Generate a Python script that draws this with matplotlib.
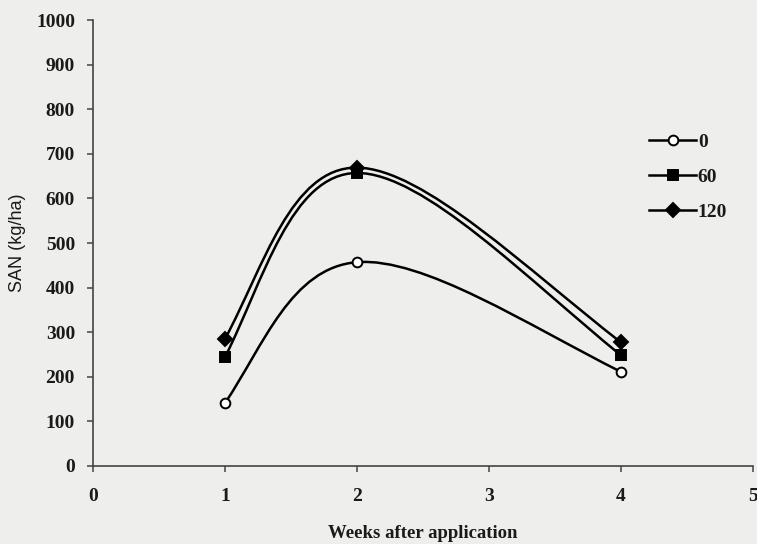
import numpy as np
import matplotlib
matplotlib.use("Agg")
import matplotlib.pyplot as plt
from matplotlib.path import Path
from matplotlib.patches import PathPatch

weeks = [1, 2, 4]
san_0 = [141, 457, 211]
san_60 = [244, 657, 248]
san_120 = [285, 669, 277]
series_labels = ["0", "60", "120"]
x_ticks = [0, 1, 2, 3, 4, 5]
y_ticks = [0, 100, 200, 300, 400, 500, 600, 700, 800, 900, 1000]

SERIF = ["Liberation Serif", "DejaVu Serif"]
SANS = ["Liberation Sans", "DejaVu Sans"]
BG = "#eeeeec"
INK = "#1a1a1a"


def smooth_path(xs, ys):
    """Cubic Bezier through the points with smoothed interior tangents and
    relaxed (half-natural) end tangents."""
    pts = np.column_stack([xs, ys]).astype(float)
    n = len(pts)
    # control-point offsets at interior points
    off = [None] * n
    for i in range(1, n - 1):
        off[i] = (pts[i + 1] - pts[i - 1]) / 6.0
    verts = [pts[0]]
    codes = [Path.MOVETO]
    for i in range(n - 1):
        p0, p1 = pts[i], pts[i + 1]
        d = p1 - p0
        if off[i] is not None:
            c1 = p0 + off[i]
        else:
            v = off[i + 1] if off[i + 1] is not None else np.zeros(2)
            c1 = p0 + (5.0 / 12.0) * d - v / 4.0
        if off[i + 1] is not None:
            c2 = p1 - off[i + 1]
        else:
            v = off[i] if off[i] is not None else np.zeros(2)
            c2 = p1 - ((5.0 / 12.0) * d - v / 4.0)
        verts += [c1, c2, p1]
        codes += [Path.CURVE4] * 3
    return Path(verts, codes)


fig = plt.figure(figsize=(7.57, 5.44), dpi=100, facecolor=BG)
ax = fig.add_axes([0.1229, 0.1434, 0.8718, 0.8198])
ax.set_facecolor(BG)

styles = [
    dict(marker="o", markerfacecolor="white", markersize=7),
    dict(marker="s", markerfacecolor="black", markersize=7),
    dict(marker="D", markerfacecolor="black", markersize=7),
]

for ys, lab, st in zip([san_0, san_60, san_120], series_labels, styles):
    ax.add_patch(PathPatch(smooth_path(weeks, ys), facecolor="none",
                           edgecolor="black", lw=1.8, zorder=2))
    ax.plot(weeks, ys, linestyle="none", color="black",
            markeredgecolor="black", markeredgewidth=1.4, zorder=3, **st)
    # legend proxy with line and marker
    ax.plot([], [], color="black", lw=1.8, label=lab,
            markeredgecolor="black", markeredgewidth=1.4, **st)

ax.set_xlim(0, 5)
ax.set_ylim(0, 1000)
ax.set_xticks(x_ticks)
ax.set_yticks(y_ticks)
for s in ["top", "right"]:
    ax.spines[s].set_visible(False)
for s in ["left", "bottom"]:
    ax.spines[s].set_color("#444444")
    ax.spines[s].set_linewidth(1.2)
ax.tick_params(direction="out", length=4, width=1.1, color="#444444",
               labelsize=14)
ax.tick_params(axis="x", pad=12)
ax.tick_params(axis="y", pad=9)
for t in ax.get_xticklabels() + ax.get_yticklabels():
    t.set_fontfamily(SERIF)
    t.set_fontweight("bold")
    t.set_color(INK)

ax.set_xlabel("Weeks after application", fontsize=13.5, family=SERIF,
              fontweight="bold", color=INK, labelpad=14)
ax.set_ylabel("SAN (kg/ha)", fontsize=13, family=SANS, color=INK)
ax.yaxis.set_label_coords(-0.101, 0.5)

leg = ax.legend(loc="upper left", bbox_to_anchor=(0.828, 0.768), frameon=False,
                handlelength=2.4, labelspacing=0.9, handletextpad=0.1,
                borderpad=0, prop={"family": SERIF, "size": 14,
                                   "weight": "bold"})
for t in leg.get_texts():
    t.set_color(INK)

fig.savefig("out.png", dpi=100, facecolor=BG)
